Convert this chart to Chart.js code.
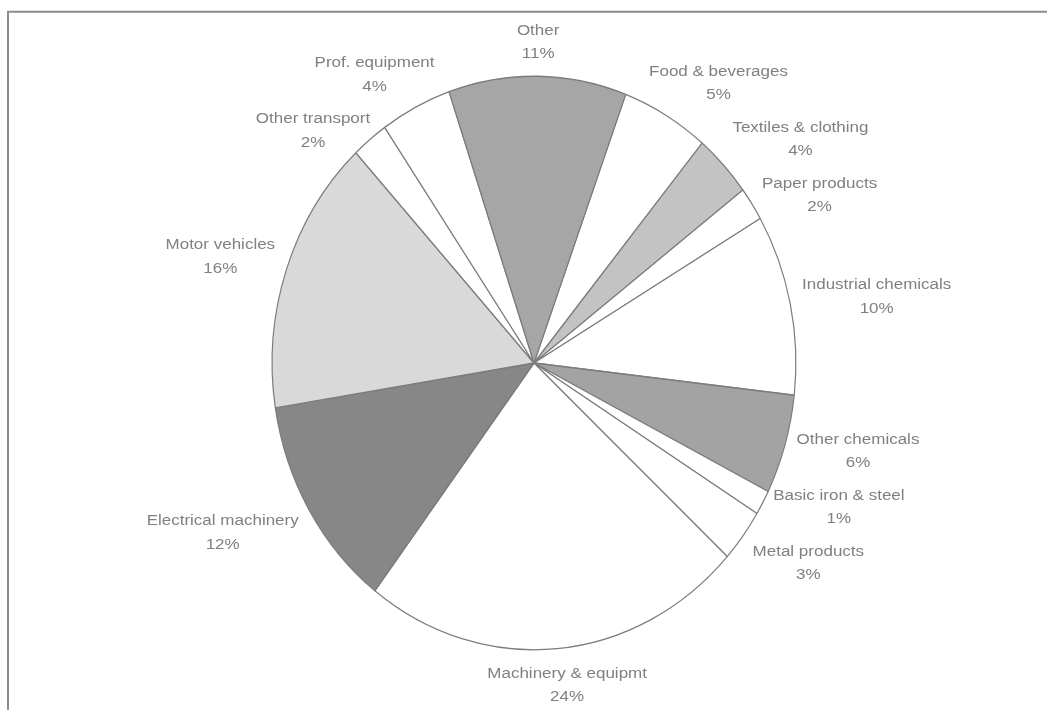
<!DOCTYPE html>
<html>
<head>
<meta charset="utf-8">
<title>Industry shares</title>
<script src="https://cdn.jsdelivr.net/npm/chart.js@4.4.1/dist/chart.umd.min.js"></script>
<style>
  html, body { margin: 0; padding: 0; background: #fff; overflow: hidden; }
  canvas { display: block; }
</style>
</head>
<body>
<canvas id="pie" width="1047" height="710"></canvas>
<script>
// sectors, clockwise from the slice after "Other"
const sectors = [
  'Food & beverages', 'Textiles & clothing', 'Paper products', 'Industrial chemicals',
  'Other chemicals', 'Basic iron & steel', 'Metal products', 'Machinery & equipmt',
  'Electrical machinery', 'Motor vehicles', 'Other transport', 'Prof. equipment', 'Other'
];
// share of total, %
const shares = [5.4, 3.6, 1.9, 10.2, 5.6, 1.4, 3.0, 23.6, 12.1, 15.6, 2.25, 4.4, 10.95];
const sliceColors = [
  '#ffffff', '#c3c3c3', '#ffffff', '#ffffff',
  '#a3a3a3', '#ffffff', '#ffffff', '#ffffff',
  '#878787', '#d9d9d9', '#ffffff', '#ffffff', '#a6a6a6'
];

const STRETCH = 1.095;     // pie is drawn slightly taller than wide
const TEXT_SQUASH = 0.9;   // label glyphs are a little flatter than the font
const LINE_GAP = 23.5;
const BOX_H = 44;
const LABEL_GAP = 12;

// where the anchor sits on the label box, walking round its edge with the angle
// (theta in degrees, clockwise from 12 o'clock), relative to the box centre
function anchorOnBox(theta, hw, hh) {
  if (theta < 45) return [-hw * theta / 45, hh];
  if (theta < 135) return [-hw, hh * (90 - theta) / 45];
  if (theta < 225) return [-hw * (180 - theta) / 45, -hh];
  if (theta < 315) return [hw, hh * (theta - 270) / 45];
  return [hw * (360 - theta) / 45, hh];
}

const framePlugin = {
  id: 'frame',
  beforeDraw(chart) {
    const ctx = chart.ctx;
    ctx.save();
    ctx.strokeStyle = '#8c8c8c';
    ctx.lineWidth = 2;
    ctx.beginPath();
    ctx.moveTo(8, chart.height);
    ctx.lineTo(8, 11.7);
    ctx.lineTo(chart.width, 11.7);
    ctx.stroke();
    ctx.restore();
  }
};

const pieLabels = {
  id: 'pieLabels',
  beforeDatasetsDraw(chart) {
    const arc = chart.getDatasetMeta(0).data[0];
    const ctx = chart.ctx;
    ctx.save();
    ctx.translate(arc.x, arc.y);
    ctx.scale(1, STRETCH);
    ctx.translate(-arc.x, -arc.y);
  },
  afterDatasetsDraw(chart) {
    const ctx = chart.ctx;
    ctx.restore();

    const meta = chart.getDatasetMeta(0);
    const total = shares.reduce((a, b) => a + b, 0);
    ctx.save();
    ctx.font = '17px "Liberation Sans", Arial, sans-serif';
    ctx.fillStyle = '#808080';
    ctx.textAlign = 'center';
    ctx.textBaseline = 'alphabetic';

    const boxes = meta.data.map((arc, i) => {
      const mid = (arc.startAngle + arc.endAngle) / 2;
      const ux = Math.cos(mid), uy = Math.sin(mid);
      const lines = [sectors[i], Math.round(shares[i] / total * 100) + '%'];
      const w = Math.max(...lines.map(t => ctx.measureText(t).width));
      const reach = arc.outerRadius + LABEL_GAP;
      const px = arc.x + reach * ux;
      const py = arc.y + reach * uy * STRETCH;
      let theta = (mid * 180 / Math.PI + 90) % 360;
      if (theta < 0) theta += 360;
      const [ox, oy] = anchorOnBox(theta, w / 2, BOX_H / 2);
      return { lines, w, h: BOX_H, lower: uy >= 0, x: px - ox, y: py - oy };
    });

    // keep labels from overlapping: upper ones slide down, lower ones slide up
    const hits = (a, b) => Math.abs(a.x - b.x) < (a.w + b.w) / 2;
    const upper = boxes.filter(b => !b.lower).sort((a, b) => a.y - b.y);
    const lower = boxes.filter(b => b.lower).sort((a, b) => b.y - a.y);
    upper.forEach((b, i) => {
      upper.slice(0, i).forEach(p => {
        const minGap = (p.h + b.h) / 2 + 12;
        if (hits(p, b) && b.y - p.y < minGap) b.y = p.y + minGap;
      });
    });
    lower.forEach((b, i) => {
      lower.slice(0, i).forEach(p => {
        const minGap = (p.h + b.h) / 2 + 12;
        if (hits(p, b) && p.y - b.y < minGap) b.y = p.y - minGap;
      });
    });

    boxes.forEach(b => {
      b.lines.forEach((t, k) => {
        const ly = b.y + (k - 0.5) * LINE_GAP + 5.5;
        ctx.save();
        ctx.translate(b.x, ly);
        ctx.scale(1, TEXT_SQUASH);
        ctx.fillText(t, 0, 0);
        ctx.restore();
      });
    });
    ctx.restore();
  }
};

new Chart(document.getElementById('pie'), {
  type: 'pie',
  data: {
    labels: sectors,
    datasets: [{
      data: shares,
      backgroundColor: sliceColors,
      borderColor: '#7c7c7c',
      borderWidth: 1.2
    }]
  },
  options: {
    responsive: false,
    animation: false,
    events: [],
    rotation: 20.5,
    layout: { padding: { left: 271.5, right: 250.5, top: 100.5, bottom: 84.5 } },
    plugins: {
      legend: { display: false },
      tooltip: { enabled: false }
    }
  },
  plugins: [framePlugin, pieLabels]
});
</script>
</body>
</html>
